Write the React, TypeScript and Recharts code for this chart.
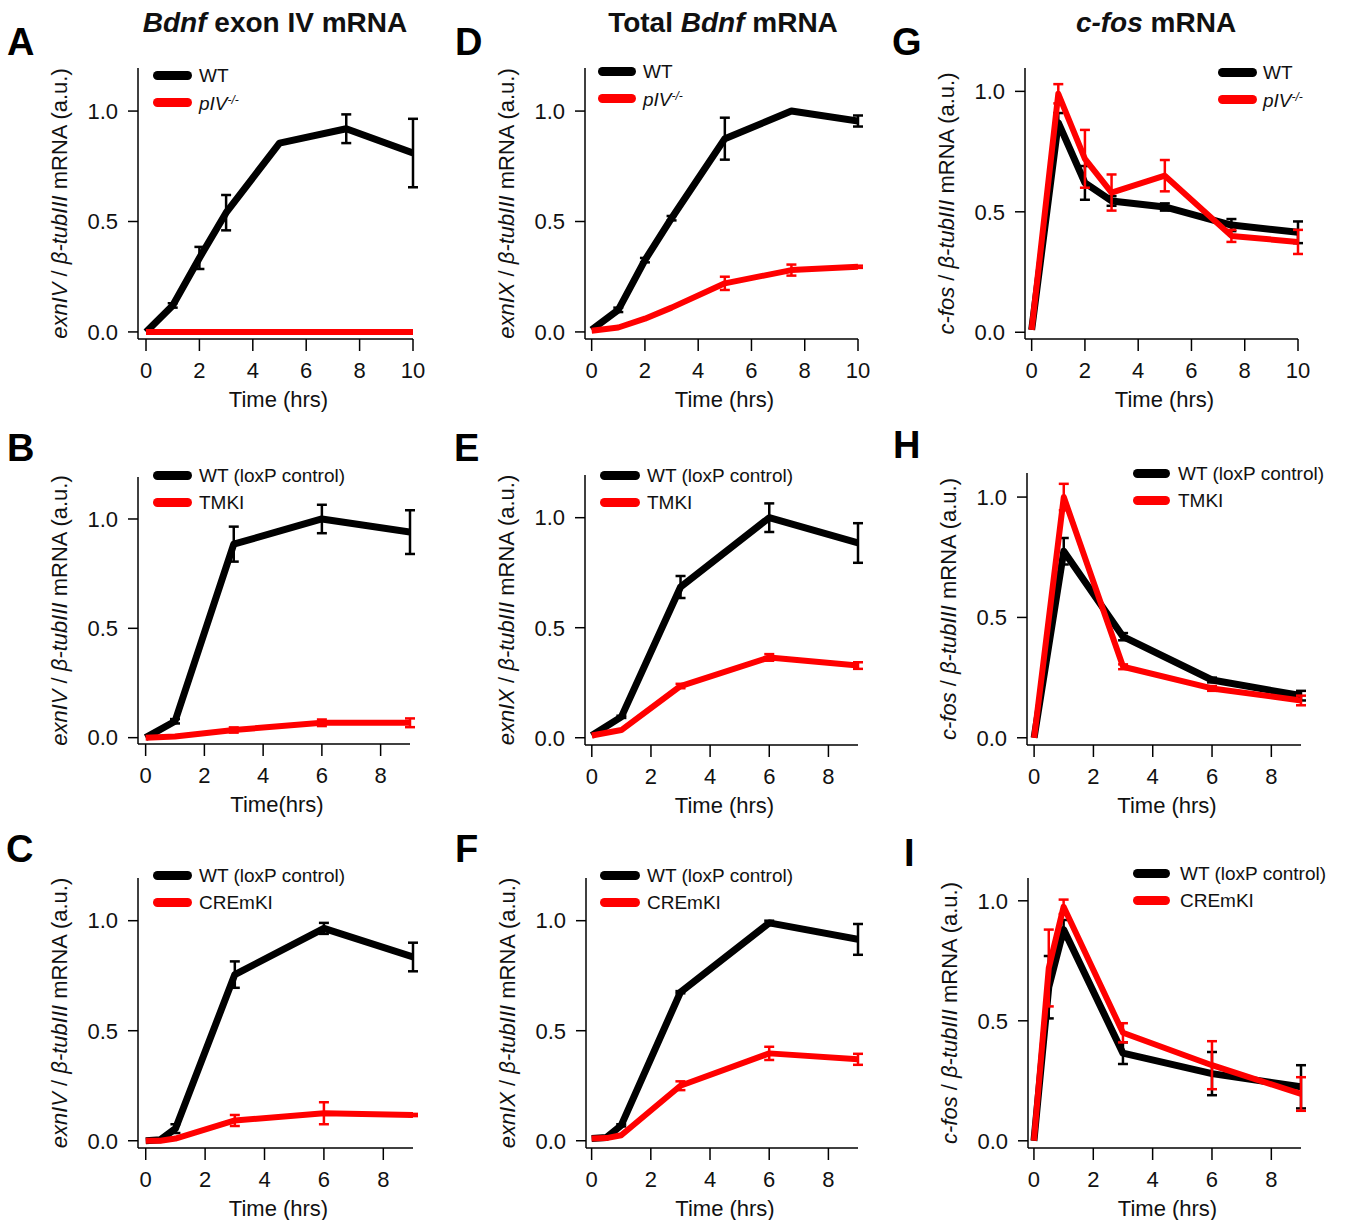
import { ErrorBar, Legend, Line, LineChart, XAxis, YAxis } from "recharts";
import type { ReactNode } from "react";

const FONT = '"Liberation Sans", Arial, Helvetica, sans-serif';
const RED = "#ff0000";
const INK = "#111";

// --- data ---
// top row: 0-10 h time course
const hoursTop = [0, 1, 2, 3, 5, 7.5, 10];
// middle row (TMKI): 0-9 h
const hoursMid = [0, 1, 3, 6, 9];
// bottom row (CREmKI): 0-9 h, extra 30 min point
const hoursBot = [0, 0.5, 1, 3, 6, 9];

// A: Bdnf exon IV, WT vs pIV-/-
const exIvWtA = [0, 0.12, 0.335, 0.54, 0.855, 0.92, 0.81];
const exIvWtErrA = [0, 0.01, 0.05, 0.08, 0, 0.065, 0.155];
const exIvPivA = [0, 0, 0, 0, 0, 0, 0];
const exIvPivErrA = [0, 0, 0, 0, 0, 0, 0];

// D: total Bdnf, WT vs pIV-/-
const totWtD = [0.01, 0.1, 0.325, 0.515, 0.875, 1.0, 0.955];
const totWtErrD = [0, 0.01, 0.01, 0.01, 0.095, 0, 0.025];
const totPivD = [0.005, 0.02, 0.06, 0.11, 0.22, 0.28, 0.295];
const totPivErrD = [0, 0, 0, 0, 0.03, 0.025, 0.005];

// G: c-fos, WT vs pIV-/-
const fosWtG = [0.01, 0.87, 0.62, 0.545, 0.52, 0.445, 0.415];
const fosWtErrG = [0, 0.04, 0.07, 0.02, 0.015, 0.025, 0.045];
const fosPivG = [0.01, 0.99, 0.72, 0.58, 0.65, 0.4, 0.375];
const fosPivErrG = [0, 0.04, 0.12, 0.075, 0.065, 0.025, 0.05];

// B: exon IV, loxP control vs TMKI
const exIvWtB = [0, 0.075, 0.885, 1.0, 0.94];
const exIvWtErrB = [0, 0.01, 0.08, 0.065, 0.1];
const exIvTmkiB = [0, 0.005, 0.035, 0.068, 0.068];
const exIvTmkiErrB = [0, 0, 0.012, 0.015, 0.02];

// E: total Bdnf, loxP control vs TMKI
const totWtE = [0.01, 0.095, 0.685, 1.0, 0.885];
const totWtErrE = [0, 0.005, 0.05, 0.065, 0.09];
const totTmkiE = [0.01, 0.035, 0.235, 0.365, 0.328];
const totTmkiErrE = [0, 0, 0.01, 0.015, 0.015];

// H: c-fos, loxP control vs TMKI
const fosWtH = [0, 0.775, 0.42, 0.24, 0.175];
const fosWtErrH = [0, 0.055, 0.015, 0.01, 0.02];
const fosTmkiH = [0, 1.0, 0.295, 0.205, 0.155];
const fosTmkiErrH = [0, 0.055, 0.01, 0.01, 0.02];

// C: exon IV, loxP control vs CREmKI
const exIvWtC = [0, 0.005, 0.055, 0.755, 0.965, 0.835];
const exIvWtErrC = [0, 0, 0.02, 0.06, 0.025, 0.065];
const exIvCremC = [0, 0, 0.01, 0.092, 0.125, 0.117];
const exIvCremErrC = [0, 0, 0, 0.025, 0.05, 0.005];

// F: total Bdnf, loxP control vs CREmKI
const totWtF = [0.01, 0.015, 0.07, 0.675, 0.99, 0.915];
const totWtErrF = [0, 0, 0.005, 0.005, 0.01, 0.07];
const totCremF = [0.01, 0.012, 0.025, 0.25, 0.397, 0.37];
const totCremErrF = [0, 0, 0, 0.02, 0.03, 0.025];

// I: c-fos, loxP control vs CREmKI
const fosWtI = [0, 0.64, 0.88, 0.365, 0.28, 0.225];
const fosWtErrI = [0, 0.13, 0.04, 0.045, 0.09, 0.09];
const fosCremI = [0, 0.72, 0.975, 0.45, 0.315, 0.195];
const fosCremErrI = [0, 0.16, 0.03, 0.04, 0.1, 0.07];

const ticks10 = [0, 2, 4, 6, 8, 10];
const ticks9 = [0, 2, 4, 6, 8];
const yTicks = [0, 0.5, 1.0];

// chart padding around the axes box
const PAD_L = 110;
const PAD_T = 12;
const PAD_R = 36;
const PAD_B = 76;
const AXIS_FONT = 22;

type Row = { t: number; wt: number; wtErr: number; mut: number; mutErr: number };

function makeRows(t: number[], wt: number[], wtErr: number[], mut: number[], mutErr: number[]): Row[] {
    return t.map((h, i) => ({ t: h, wt: wt[i], wtErr: wtErr[i], mut: mut[i], mutErr: mutErr[i] }));
}

const pivLabel = (
    <span>
        <i>pIV</i>
        <sup style={{ fontSize: 12, fontStyle: "italic", verticalAlign: 6 }}>-/-</sup>
    </span>
);

type Panel = {
    letter: string;
    letterAt: [number, number];
    box: [number, number, number, number]; // left, top, right, bottom (page px)
    x: [number, number];
    y: [number, number];
    xTicks: number[];
    gene: string;
    xTitle: string;
    legend: { x0: number; x1: number; tx: number; y: number };
    wtLabel: string;
    mutLabel: ReactNode;
    rows: Row[];
};

const panels: Panel[] = [
    {
        letter: "A", letterAt: [7, 23], box: [138, 68, 413, 339], x: [-0.3, 10], y: [-0.032, 1.195],
        xTicks: ticks10, gene: "exnIV", xTitle: "Time (hrs)",
        legend: { x0: 153, x1: 192, tx: 199, y: 75 }, wtLabel: "WT", mutLabel: pivLabel,
        rows: makeRows(hoursTop, exIvWtA, exIvWtErrA, exIvPivA, exIvPivErrA),
    },
    {
        letter: "D", letterAt: [455, 23], box: [585, 68, 858, 339], x: [-0.25, 10], y: [-0.032, 1.195],
        xTicks: ticks10, gene: "exnIX", xTitle: "Time (hrs)",
        legend: { x0: 598, x1: 636, tx: 643, y: 71 }, wtLabel: "WT", mutLabel: pivLabel,
        rows: makeRows(hoursTop, totWtD, totWtErrD, totPivD, totPivErrD),
    },
    {
        letter: "G", letterAt: [892, 23], box: [1025, 68, 1298, 339], x: [-0.25, 10], y: [-0.028, 1.097],
        xTicks: ticks10, gene: "c-fos", xTitle: "Time (hrs)",
        legend: { x0: 1218, x1: 1257, tx: 1263, y: 72 }, wtLabel: "WT", mutLabel: pivLabel,
        rows: makeRows(hoursTop, fosWtG, fosWtErrG, fosPivG, fosPivErrG),
    },
    {
        letter: "B", letterAt: [7, 429], box: [138, 477, 410, 744], x: [-0.26, 9], y: [-0.029, 1.192],
        xTicks: ticks9, gene: "exnIV", xTitle: "Time(hrs)",
        legend: { x0: 153, x1: 192, tx: 199, y: 475 }, wtLabel: "WT (loxP control)", mutLabel: "TMKI",
        rows: makeRows(hoursMid, exIvWtB, exIvWtErrB, exIvTmkiB, exIvTmkiErrB),
    },
    {
        letter: "E", letterAt: [454, 429], box: [585, 475, 858, 745], x: [-0.23, 9], y: [-0.033, 1.194],
        xTicks: ticks9, gene: "exnIX", xTitle: "Time (hrs)",
        legend: { x0: 600, x1: 640, tx: 647, y: 475 }, wtLabel: "WT (loxP control)", mutLabel: "TMKI",
        rows: makeRows(hoursMid, totWtE, totWtErrE, totTmkiE, totTmkiErrE),
    },
    {
        letter: "H", letterAt: [893, 426], box: [1027, 473, 1301, 745], x: [-0.24, 9], y: [-0.03, 1.1],
        xTicks: ticks9, gene: "c-fos", xTitle: "Time (hrs)",
        legend: { x0: 1133, x1: 1170, tx: 1178, y: 473 }, wtLabel: "WT (loxP control)", mutLabel: "TMKI",
        rows: makeRows(hoursMid, fosWtH, fosWtErrH, fosTmkiH, fosTmkiErrH),
    },
    {
        letter: "C", letterAt: [6, 830], box: [138, 878, 413, 1148], x: [-0.26, 9], y: [-0.033, 1.194],
        xTicks: ticks9, gene: "exnIV", xTitle: "Time (hrs)",
        legend: { x0: 153, x1: 192, tx: 199, y: 875 }, wtLabel: "WT (loxP control)", mutLabel: "CREmKI",
        rows: makeRows(hoursBot, exIvWtC, exIvWtErrC, exIvCremC, exIvCremErrC),
    },
    {
        letter: "F", letterAt: [455, 830], box: [586, 878, 858, 1148], x: [-0.19, 9], y: [-0.033, 1.194],
        xTicks: ticks9, gene: "exnIX", xTitle: "Time (hrs)",
        legend: { x0: 600, x1: 640, tx: 647, y: 875 }, wtLabel: "WT (loxP control)", mutLabel: "CREmKI",
        rows: makeRows(hoursBot, totWtF, totWtErrF, totCremF, totCremErrF),
    },
    {
        letter: "I", letterAt: [904, 834], box: [1028, 878, 1301, 1148], x: [-0.2, 9], y: [-0.03, 1.095],
        xTicks: ticks9, gene: "c-fos", xTitle: "Time (hrs)",
        legend: { x0: 1133, x1: 1170, tx: 1180, y: 873 }, wtLabel: "WT (loxP control)", mutLabel: "CREmKI",
        rows: makeRows(hoursBot, fosWtI, fosWtErrI, fosCremI, fosCremErrI),
    },
];

const titles: { cx: number; content: ReactNode }[] = [
    { cx: 275, content: <><i>Bdnf</i> exon IV mRNA</> },
    { cx: 723, content: <>Total <i>Bdnf</i> mRNA</> },
    { cx: 1156, content: <><i>c-fos</i> mRNA</> },
];

function LegendBox({ p }: { p: Panel }) {
    const w = p.legend.x1 - p.legend.x0;
    const items = [
        { color: "#000", label: p.wtLabel },
        { color: RED, label: p.mutLabel },
    ];
    return (
        <div style={{ fontFamily: FONT, fontSize: 19, color: INK, whiteSpace: "nowrap" }}>
            {items.map((it, i) => (
                <div key={i} style={{ display: "flex", alignItems: "center", height: 27 }}>
                    <svg width={w} height={27} style={{ display: "block", flex: "none" }}>
                        <line x1={4.5} x2={w - 4.5} y1={13.5} y2={13.5} stroke={it.color} strokeWidth={9} strokeLinecap="round" />
                    </svg>
                    <span style={{ marginLeft: p.legend.tx - p.legend.x1, lineHeight: "27px" }}>{it.label}</span>
                </div>
            ))}
        </div>
    );
}

function PanelChart({ p }: { p: Panel }) {
    const [left, top, right, bottom] = p.box;
    const plotW = right - left;
    const plotH = bottom - top;
    const chartLeft = left - PAD_L;
    const chartTop = top - PAD_T;
    const axisStyle = { stroke: "#000", strokeWidth: 1.5 };
    const tickStyle = { fill: INK, fontSize: AXIS_FONT, fontFamily: FONT };

    const yTitle = () => {
        const cx = PAD_L - 79;
        const cy = PAD_T + plotH / 2;
        return (
            <text x={cx} y={cy} dy="0.35em" transform={`rotate(-90, ${cx}, ${cy})`} textAnchor="middle"
                fontSize={AXIS_FONT} fontFamily={FONT} fill={INK} style={{ whiteSpace: "pre" }}>
                <tspan fontStyle="italic">{p.gene}</tspan>
                <tspan>{" / "}</tspan>
                <tspan fontStyle="italic">β-tubIII</tspan>
                <tspan>{" mRNA (a.u.)"}</tspan>
            </text>
        );
    };
    const xTitle = () => (
        <text x={PAD_L + plotW / 2 + 3} y={PAD_T + plotH + 60} dy="0.35em" textAnchor="middle"
            fontSize={AXIS_FONT} fontFamily={FONT} fill={INK}>
            {p.xTitle}
        </text>
    );

    return (
        <div style={{ position: "absolute", left: chartLeft, top: chartTop }}>
            <LineChart
                width={plotW + PAD_L + PAD_R}
                height={plotH + PAD_T + PAD_B}
                data={p.rows}
                margin={{ top: PAD_T, right: PAD_R, bottom: 0, left: 0 }}
            >
                <XAxis type="number" dataKey="t" domain={p.x} ticks={p.xTicks} allowDataOverflow
                    height={PAD_B} tickSize={12} tickMargin={11} axisLine={axisStyle} tickLine={axisStyle}
                    tick={tickStyle} label={{ content: xTitle }} />
                <YAxis type="number" domain={p.y} ticks={yTicks} allowDataOverflow width={PAD_L}
                    tickSize={10} tickMargin={10} axisLine={axisStyle} tickLine={axisStyle} tick={tickStyle}
                    tickFormatter={(v: number) => v.toFixed(1)} label={{ content: yTitle }} />
                <Legend layout="horizontal" verticalAlign="middle" align="center"
                    wrapperStyle={{
                        left: p.legend.x0 - chartLeft,
                        top: p.legend.y - 13.5 - chartTop,
                        width: 205,
                        height: 54,
                    }}
                    content={() => <LegendBox p={p} />} />
                <Line type="linear" dataKey="wt" stroke="#000" strokeWidth={7} strokeLinejoin="round"
                    dot={false} activeDot={false} isAnimationActive={false}>
                    <ErrorBar dataKey="wtErr" direction="y" width={5} strokeWidth={2.5} stroke="#000" isAnimationActive={false} />
                </Line>
                <Line type="linear" dataKey="mut" stroke={RED} strokeWidth={6} strokeLinejoin="round"
                    dot={false} activeDot={false} isAnimationActive={false}>
                    <ErrorBar dataKey="mutErr" direction="y" width={5} strokeWidth={2.5} stroke={RED} isAnimationActive={false} />
                </Line>
            </LineChart>
        </div>
    );
}

export default function App() {
    return (
        <div style={{ position: "absolute", left: 0, top: 0, width: 1347, height: 1220, background: "#fff", overflow: "hidden", fontFamily: FONT, color: INK }}>
            {titles.map((t) => (
                <div key={t.cx} style={{ position: "absolute", left: t.cx - 250, width: 500, top: 9, textAlign: "center", fontSize: 28, lineHeight: "28px", fontWeight: "bold" }}>
                    {t.content}
                </div>
            ))}
            {panels.map((p) => (
                <div key={p.letter + "-lbl"} style={{ position: "absolute", left: p.letterAt[0], top: p.letterAt[1], fontSize: 38, lineHeight: "38px", fontWeight: "bold", color: "#000" }}>
                    {p.letter}
                </div>
            ))}
            {panels.map((p) => (
                <PanelChart key={p.letter} p={p} />
            ))}
        </div>
    );
}
